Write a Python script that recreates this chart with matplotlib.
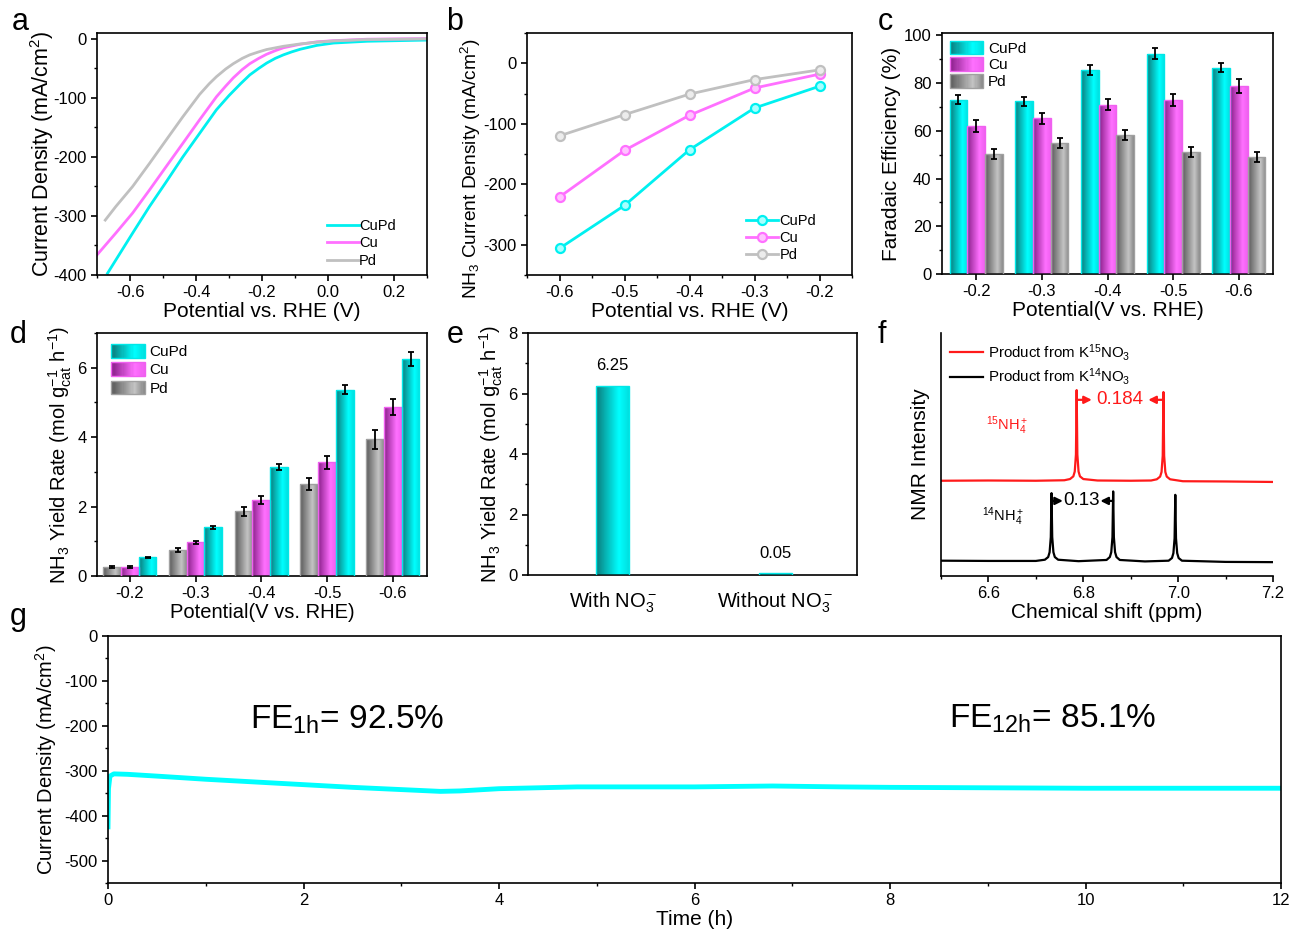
import matplotlib
matplotlib.use('Agg')
import matplotlib.pyplot as plt
import numpy as np
from matplotlib.colors import LinearSegmentedColormap
from matplotlib.patches import Rectangle, Patch
from matplotlib.legend_handler import HandlerBase
from matplotlib.ticker import MultipleLocator

plt.rcParams['font.family'] = ['Liberation Sans', 'DejaVu Sans']
plt.rcParams['mathtext.fontset'] = 'custom'
plt.rcParams['mathtext.rm'] = 'Liberation Sans'
plt.rcParams['mathtext.it'] = 'Liberation Sans:italic'
plt.rcParams['mathtext.default'] = 'regular'
plt.rcParams['axes.unicode_minus'] = False
plt.rcParams['axes.linewidth'] = 1.2
plt.rcParams['xtick.major.width'] = 1.2
plt.rcParams['ytick.major.width'] = 1.2
plt.rcParams['xtick.minor.width'] = 1.0
plt.rcParams['ytick.minor.width'] = 1.0
plt.rcParams['xtick.major.size'] = 4
plt.rcParams['ytick.major.size'] = 4
plt.rcParams['xtick.minor.size'] = 2.5
plt.rcParams['ytick.minor.size'] = 2.5

CYAN = '#00F0F0'
MAG = '#FF70FF'
GRAY = '#C0C0C0'

# ---- a: LSV curves
a_cupd_x = [-0.668, -0.592, -0.541, -0.490, -0.440, -0.389, -0.338, -0.300, -0.265, -0.237, -0.210, -0.186, -0.160, -0.135, -0.110, -0.084, -0.034, 0.017, 0.119, 0.30]
a_cupd_y = [-397, -329, -284, -242, -200, -160, -120, -96, -76, -61, -50, -41, -33, -27, -22, -17.5, -11, -7, -4, -2]
a_cu_x = [-0.70, -0.643, -0.592, -0.541, -0.490, -0.440, -0.389, -0.338, -0.310, -0.287, -0.260, -0.237, -0.210, -0.186, -0.160, -0.135, -0.084, -0.034, 0.017, 0.119, 0.30]
a_cu_y = [-366, -329, -295, -256, -216, -177, -137, -98, -80, -66, -52, -42, -33, -26, -20, -15, -9, -5, -3, -0.5, 0.5]
a_pd_x = [-0.675, -0.643, -0.592, -0.541, -0.490, -0.440, -0.389, -0.360, -0.338, -0.310, -0.287, -0.260, -0.237, -0.210, -0.186, -0.135, -0.084, -0.034, 0.017, 0.119, 0.30]
a_pd_y = [-307, -284, -250, -211, -171, -132, -94, -76, -64, -51, -42, -33, -27, -22, -18, -12.5, -8.5, -5.6, -3.4, -1, 0]

# ---- b: NH3 partial current density
b_pot = [-0.6, -0.5, -0.4, -0.3, -0.2]
b_cupd = [-306, -235, -143, -74, -38]
b_cu = [-221, -144, -86, -41, -18]
b_pd = [-120, -85, -51, -27, -11]

# ---- c: Faradaic efficiency
cat_labels = ['-0.2', '-0.3', '-0.4', '-0.5', '-0.6']
c_cupd = [73.1, 72.3, 85.5, 92.4, 86.5]
c_cu = [62.2, 65.2, 70.9, 73.1, 78.8]
c_pd = [50.4, 55.0, 58.3, 51.2, 49.1]
c_cupd_err = [1.9, 1.9, 2.0, 2.3, 2.0]
c_cu_err = [2.5, 2.3, 2.3, 2.5, 2.8]
c_pd_err = [2.0, 2.2, 2.2, 2.2, 2.1]

# ---- d: NH3 yield rate
d_pd = [0.25, 0.76, 1.86, 2.64, 3.94]
d_cu = [0.27, 0.97, 2.18, 3.27, 4.88]
d_cupd = [0.54, 1.40, 3.13, 5.37, 6.25]
d_pd_err = [0.03, 0.06, 0.12, 0.17, 0.28]
d_cu_err = [0.03, 0.05, 0.12, 0.18, 0.23]
d_cupd_err = [0.02, 0.04, 0.09, 0.13, 0.21]

# ---- e: control
e_labels = ['With NO$_3^-$', 'Without NO$_3^-$']
e_vals = [6.25, 0.05]

# ---- f: NMR spectra (normalised intensity)
f15_x = [6.50, 6.60, 6.70, 6.760, 6.772, 6.779, 6.782, 6.7845, 6.786, 6.7875, 6.790, 6.793, 6.800, 6.830,
         6.900, 6.943, 6.955, 6.962, 6.965, 6.9675, 6.969, 6.9705, 6.973, 6.976, 6.983, 7.010, 7.100, 7.200]
f15_y = [0.392, 0.393, 0.392, 0.394, 0.399, 0.410, 0.430, 0.500, 0.765, 0.500, 0.430, 0.410, 0.399, 0.393,
         0.392, 0.393, 0.398, 0.409, 0.428, 0.495, 0.757, 0.495, 0.428, 0.409, 0.398, 0.390, 0.389, 0.387]
f14_x = [6.50, 6.60, 6.70, 6.719, 6.726, 6.729, 6.7315, 6.733, 6.7345, 6.737, 6.740, 6.747, 6.790,
         6.849, 6.856, 6.859, 6.8615, 6.863, 6.8645, 6.867, 6.870, 6.877, 6.930,
         6.980, 6.987, 6.990, 6.9925, 6.994, 6.9955, 6.998, 7.001, 7.008, 7.100, 7.200]
f14_y = [0.063, 0.062, 0.062, 0.067, 0.078, 0.098, 0.160, 0.341, 0.160, 0.098, 0.078, 0.067, 0.061,
         0.066, 0.078, 0.098, 0.160, 0.348, 0.160, 0.098, 0.078, 0.066, 0.060,
         0.063, 0.074, 0.094, 0.155, 0.334, 0.155, 0.094, 0.074, 0.063, 0.058, 0.057]

# ---- g: stability test
g_t = [0.0, 0.005, 0.02, 0.06, 0.2, 0.5, 1.0, 1.5, 2.0, 2.5, 3.0, 3.4, 3.6, 4.0, 4.8, 5.5, 6.0, 6.8, 7.5, 8.0, 9.0, 10.0, 11.0, 12.0]
g_j = [-425, -340, -312, -307, -308, -312, -319, -325, -331, -337, -342, -346, -345, -340, -336, -336, -336, -334, -336, -337, -338, -339, -339, -339]


def grad_cmap(dark, bright, mid):
    return LinearSegmentedColormap.from_list('g', [(0, dark), (0.7, bright), (1.0, mid)])


cm_cupd = grad_cmap('#0B7D7D', '#00FFFF', '#00E0E0')
cm_cu = grad_cmap('#8A1F8A', '#FF70FF', '#F060F0')
cm_pd = grad_cmap('#5A5A5A', '#C4C4C4', '#8A8A8A')
grad = np.linspace(0, 1, 64).reshape(1, -1)


def gradient_bars(ax, bars, cmap, edge):
    for b in bars:
        x0, y0 = b.get_x(), b.get_y()
        w, h = b.get_width(), b.get_height()
        im = ax.imshow(grad, cmap=cmap, extent=(x0, x0 + w, y0, y0 + h),
                       aspect='auto', interpolation='bilinear', zorder=2)
        im.set_clip_path(b)
        b.set_edgecolor(edge)


class GradHandler(HandlerBase):
    def __init__(self, cmap, edge):
        super().__init__()
        self.cmap = cmap
        self.edge = edge

    def create_artists(self, legend, orig_handle, xdescent, ydescent, width, height, fontsize, trans):
        n = 30
        arts = []
        for i in range(n):
            arts.append(Rectangle((-xdescent + width * i / n, -ydescent), width / n * 1.1, height,
                                  facecolor=self.cmap(i / (n - 1)), edgecolor='none', transform=trans))
        arts.append(Rectangle((-xdescent, -ydescent), width, height, facecolor='none',
                              edgecolor=self.edge, lw=1.0, transform=trans))
        return arts


fig = plt.figure(figsize=(12.92, 9.35), dpi=100)
W, H = 1292, 935


def add_ax(l, t, r, b):
    return fig.add_axes([l / W, 1 - b / H, (r - l) / W, (b - t) / H])


TICK = 12
LAB = 15

# ---------- a
ax = add_ax(97, 33, 427, 275)
ax.plot(a_cupd_x, a_cupd_y, color=CYAN, lw=2, label='CuPd')
ax.plot(a_cu_x, a_cu_y, color=MAG, lw=2, label='Cu')
ax.plot(a_pd_x, a_pd_y, color=GRAY, lw=2, label='Pd')
ax.set_xlim(-0.7, 0.3)
ax.set_ylim(-400, 10)
ax.set_xticks([-0.6, -0.4, -0.2, 0.0, 0.2])
ax.xaxis.set_minor_locator(MultipleLocator(0.1))
ax.yaxis.set_major_locator(MultipleLocator(100))
ax.yaxis.set_minor_locator(MultipleLocator(50))
ax.tick_params(labelsize=TICK)
ax.set_xlabel('Potential vs. RHE (V)', fontsize=LAB, labelpad=1)
ax.set_ylabel('Current Density (mA/cm$^2$)', fontsize=15.5, labelpad=-2)
ax.legend(loc='lower right', frameon=False, fontsize=10.5, handlelength=2.2, handletextpad=0.0,
          labelspacing=0.25, bbox_to_anchor=(0.945, -0.025))

# ---------- b
ax = add_ax(527, 33, 852, 275)
for yv, c, fc, lab in [(b_cupd, CYAN, '#A8FFFF', 'CuPd'), (b_cu, MAG, '#FFC4FF', 'Cu'),
                       (b_pd, GRAY, '#ECECEC', 'Pd')]:
    ax.plot(b_pot, yv, color=c, lw=2, marker='o', ms=6.5, mfc=fc, mec=c, mew=1.6, label=lab)
ax.set_xlim(-0.65, -0.15)
ax.set_ylim(-350, 50)
ax.set_xticks(b_pot)
ax.xaxis.set_minor_locator(MultipleLocator(0.05))
ax.yaxis.set_major_locator(MultipleLocator(100))
ax.yaxis.set_minor_locator(MultipleLocator(50))
ax.tick_params(labelsize=TICK)
ax.set_xlabel('Potential vs. RHE (V)', fontsize=LAB, labelpad=1)
ax.set_ylabel('NH$_3$ Current Density (mA/cm$^2$)', fontsize=13.8, labelpad=0)
ax.yaxis.label.set_y(0.44)
ax.legend(loc='lower right', frameon=False, fontsize=10.5, handlelength=2.2, handletextpad=0.1,
          labelspacing=0.2, bbox_to_anchor=(0.93, 0.0))

# ---------- c
ax = add_ax(942, 33, 1273, 274)
xc = np.arange(1, 6)
bw = 0.27
sets = [(c_cupd, c_cupd_err, cm_cupd, '#00E8E8', -bw, 'CuPd'),
        (c_cu, c_cu_err, cm_cu, '#F060F0', 0.0, 'Cu'),
        (c_pd, c_pd_err, cm_pd, '#A0A0A0', bw, 'Pd')]
handles, hmap = [], {}
for vals, err, cm, ec, off, lab in sets:
    bars = ax.bar(xc + off, vals, bw, facecolor='none', lw=1, zorder=3)
    gradient_bars(ax, bars, cm, ec)
    ax.errorbar(xc + off, vals, yerr=err, fmt='none', ecolor='black', elinewidth=1.3, capsize=2.5,
                capthick=1.3, zorder=4)
    p = Patch(label=lab)
    handles.append(p)
    hmap[p] = GradHandler(cm, ec)
ax.set_xlim(0.48, 5.52)
ax.set_ylim(0, 101)
ax.set_xticks(xc)
ax.set_xticklabels(cat_labels)
ax.yaxis.set_major_locator(MultipleLocator(20))
ax.yaxis.set_minor_locator(MultipleLocator(10))
ax.tick_params(labelsize=TICK)
ax.set_xlabel('Potential(V vs. RHE)', fontsize=LAB, labelpad=1)
ax.set_ylabel('Faradaic Efficiency (%)', fontsize=LAB, labelpad=2)
ax.legend(handles=handles, handler_map=hmap, loc='upper left', frameon=False, fontsize=11,
          handlelength=2.2, handleheight=1.0, handletextpad=0.3, labelspacing=0.1,
          borderaxespad=0.1, bbox_to_anchor=(0.0, 1.0))

# ---------- d
ax = add_ax(97, 333, 427, 576)
sets = [(d_pd, d_pd_err, cm_pd, '#A0A0A0', -bw, 'Pd'),
        (d_cu, d_cu_err, cm_cu, '#F060F0', 0.0, 'Cu'),
        (d_cupd, d_cupd_err, cm_cupd, '#00E8E8', bw, 'CuPd')]
hd = {}
for vals, err, cm, ec, off, lab in sets:
    bars = ax.bar(xc + off, vals, bw, facecolor='none', lw=1, zorder=3)
    gradient_bars(ax, bars, cm, ec)
    ax.errorbar(xc + off, vals, yerr=err, fmt='none', ecolor='black', elinewidth=1.3, capsize=2.5,
                capthick=1.3, zorder=4)
    p = Patch(label=lab)
    hd[lab] = p
    hmap[p] = GradHandler(cm, ec)
ax.set_xlim(0.5, 5.52)
ax.set_ylim(0, 7)
ax.set_xticks(xc)
ax.set_xticklabels(cat_labels)
ax.yaxis.set_major_locator(MultipleLocator(2))
ax.yaxis.set_minor_locator(MultipleLocator(1))
ax.tick_params(labelsize=TICK)
ax.set_xlabel('Potential(V vs. RHE)', fontsize=14.5, labelpad=1)
ax.set_ylabel('NH$_3$ Yield Rate (mol g$_{cat}^{-1}$ h$^{-1}$)', fontsize=14.5, labelpad=2)
ax.legend(handles=[hd['CuPd'], hd['Cu'], hd['Pd']], handler_map=hmap, loc='upper left', frameon=False,
          fontsize=11, handlelength=2.2, handleheight=1.0, handletextpad=0.3, labelspacing=0.2,
          borderaxespad=0.1, bbox_to_anchor=(0.02, 0.985))

# ---------- e
ax = add_ax(528, 333, 857, 575)
xe = np.arange(len(e_vals))
bars = ax.bar(xe, e_vals, 0.2, facecolor='none', lw=1, zorder=3)
gradient_bars(ax, bars, cm_cupd, '#00E8E8')
for xi, v in zip(xe, e_vals):
    ax.text(xi, v + 0.42, f'{v:.2f}', ha='center', va='bottom', fontsize=12)
ax.set_xlim(-0.52, 1.5)
ax.set_ylim(0, 8)
ax.set_xticks(xe)
ax.set_xticklabels(e_labels, fontsize=14.5)
ax.tick_params(axis='x', length=0, pad=11)
ax.yaxis.set_major_locator(MultipleLocator(2))
ax.yaxis.set_minor_locator(MultipleLocator(1))
ax.tick_params(axis='y', labelsize=TICK)
ax.set_ylabel('NH$_3$ Yield Rate (mol g$_{cat}^{-1}$ h$^{-1}$)', fontsize=14.5, labelpad=2)

# ---------- f
ax = add_ax(941, 333, 1273, 576)
ax.plot(f15_x, f15_y, color='#FF1A1A', lw=1.6, label='Product from K$^{15}$NO$_3$')
ax.plot(f14_x, f14_y, color='black', lw=1.6, label='Product from K$^{14}$NO$_3$')
ax.set_xlim(6.5, 7.2)
ax.set_ylim(0, 1)
ax.xaxis.set_major_locator(MultipleLocator(0.2))
ax.xaxis.set_minor_locator(MultipleLocator(0.1))
ax.set_yticks([])
ax.spines['top'].set_visible(False)
ax.spines['right'].set_visible(False)
ax.tick_params(labelsize=TICK)
ax.set_xlabel('Chemical shift (ppm)', fontsize=LAB, labelpad=1)
ax.set_ylabel('NMR Intensity', fontsize=LAB, labelpad=8)
ax.legend(loc='upper left', frameon=False, fontsize=10.8, handlelength=2.2, handletextpad=0.3,
          labelspacing=0.22, borderaxespad=0.2, bbox_to_anchor=(0.0, 1.0))
arr = dict(arrowstyle='-|>', mutation_scale=11, lw=1.6, shrinkA=0, shrinkB=0)
ax.annotate('', xy=(6.818, 0.725), xytext=(6.786, 0.725), arrowprops=dict(arr, color='#FF1A1A'))
ax.annotate('', xy=(6.937, 0.725), xytext=(6.969, 0.725), arrowprops=dict(arr, color='#FF1A1A'))
ax.text(6.877, 0.725, '0.184', color='#FF1A1A', ha='center', va='center', fontsize=13.5)
ax.annotate('', xy=(6.757, 0.309), xytext=(6.733, 0.309), arrowprops=dict(arr, color='black'))
ax.annotate('', xy=(6.836, 0.309), xytext=(6.863, 0.309), arrowprops=dict(arr, color='black'))
ax.text(6.796, 0.309, '0.13', color='black', ha='center', va='center', fontsize=13.5)
ax.text(6.64, 0.62, '$^{15}$NH$_4^+$', color='#FF1A1A', ha='center', va='center', fontsize=10.5)
ax.text(6.632, 0.245, '$^{14}$NH$_4^+$', color='black', ha='center', va='center', fontsize=10.5)

# ---------- g
ax = add_ax(108, 636, 1281, 883)
ax.plot(g_t, g_j, color='#00FFFF', lw=3.5)
ax.set_xlim(0, 12)
ax.set_ylim(-550, 0)
ax.xaxis.set_major_locator(MultipleLocator(2))
ax.xaxis.set_minor_locator(MultipleLocator(1))
ax.yaxis.set_major_locator(MultipleLocator(100))
ax.yaxis.set_minor_locator(MultipleLocator(50))
ax.tick_params(labelsize=12)
ax.set_xlabel('Time (h)', fontsize=15, labelpad=1)
ax.set_ylabel('Current Density (mA/cm$^2$)', fontsize=14.5, labelpad=4)
ax.text(1.45, -207, 'FE$_{1h}$= 92.5%', fontsize=24, ha='left', va='baseline')
ax.text(8.6, -205, 'FE$_{12h}$= 85.1%', fontsize=24, ha='left', va='baseline')

# ---------- panel letters
for ch, x, y in [('a', 20, 22), ('b', 455, 22), ('c', 885, 22), ('d', 18, 335),
                 ('e', 455, 335), ('f', 882, 335), ('g', 18, 617)]:
    fig.text(x / W, 1 - y / H, ch, fontsize=22, ha='center', va='center')

fig.savefig('out.png', dpi=100)
